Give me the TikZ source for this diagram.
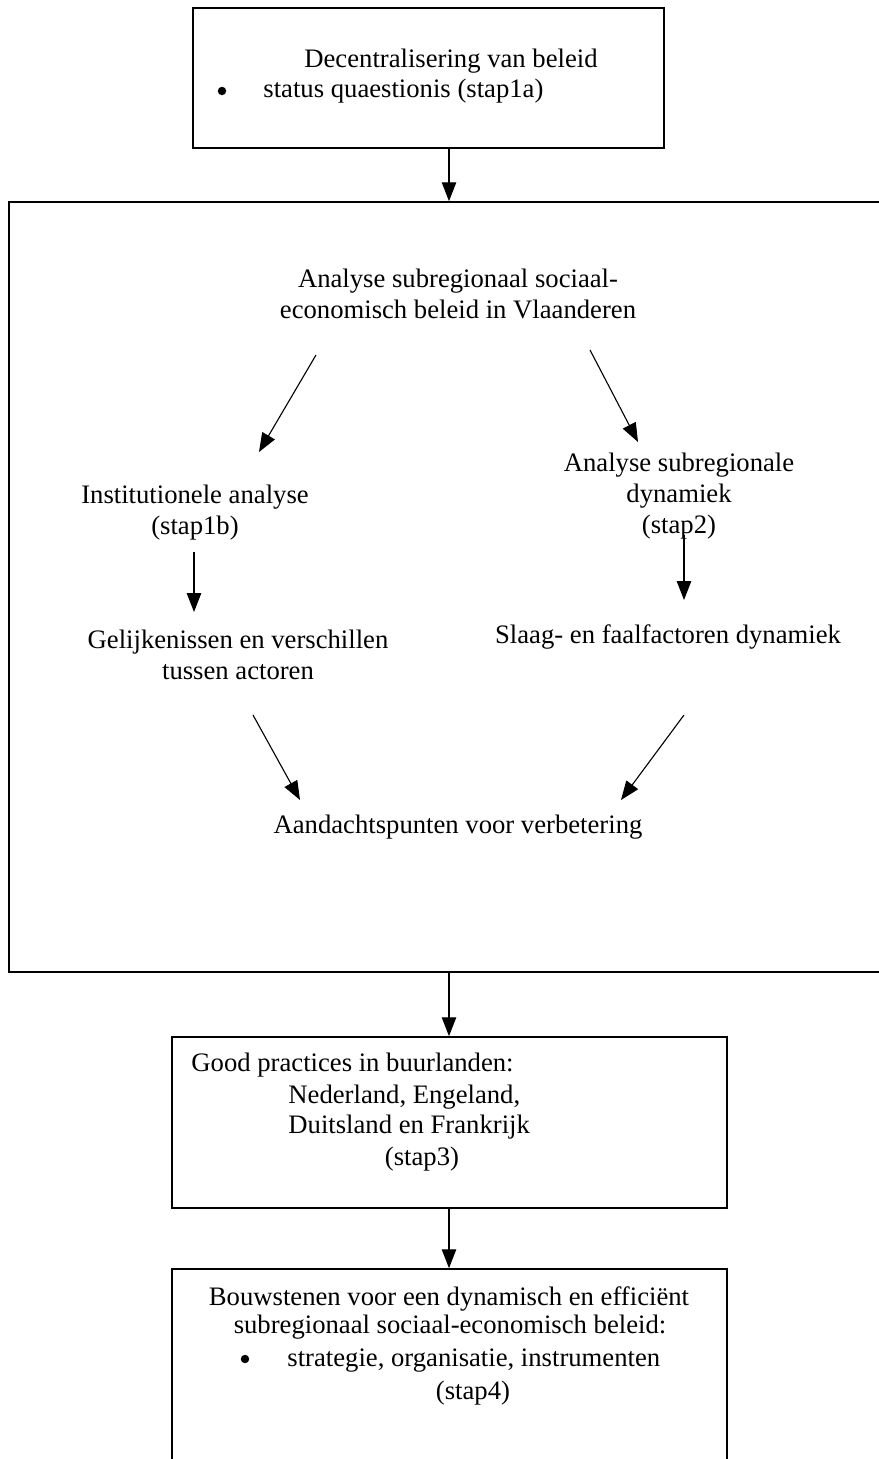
\documentclass[tikz,border=0pt]{standalone}
\usepackage{fontspec}
\setmainfont{Liberation Serif}
\usetikzlibrary{arrows.meta,fit}
\begin{document}
\begin{tikzpicture}[x=0.45pt,y=-0.45pt,
  boxstyle/.style={draw, line width=0.75pt, inner sep=0pt},
  txt/.style={font=\fontsize{12}{14}\selectfont, inner sep=0pt, anchor=base},
  txtw/.style={txt, anchor=base west},
  bulletdot/.style={circle, fill=black, inner sep=0pt, minimum size=3.8pt},
  arr/.style={line width=0.5pt, -{Triangle[width=6.5pt,length=8.5pt]}}]
\useasboundingbox[fill=white] (0,0) rectangle (878,1459);

% boxes
\coordinate (tA) at (193,8);    \coordinate (tB) at (664,148);
\coordinate (bA) at (9,202);    \coordinate (bB) at (890,972);
\coordinate (gA) at (172,1037); \coordinate (gB) at (727,1208);
\coordinate (sA) at (172,1269); \coordinate (sB) at (727,1480);
\node[boxstyle, fit=(tA)(tB)] (top) {};
\node[boxstyle, fit=(bA)(bB)] (big) {};
\node[boxstyle, fit=(gA)(gB)] (good) {};
\node[boxstyle, fit=(sA)(sB)] (bouw) {};

% top box text
\node[txt] (dec) at (451,68) {Decentralisering van beleid};
\node[bulletdot] (bul1) at (222,91) {};
\node[txtw] (sq) at (263,98) {status quaestionis (stap1a)};

% big box text
\node[txt] (an1) at (458,288) {Analyse subregionaal sociaal-};
\node[txt] (an2) at (458,319) {economisch beleid in Vlaanderen};
\node[txt] (ins1) at (195,503) {Institutionele analyse};
\node[txt] (ins2) at (195,534) {(stap1b)};
\node[txt] (dyn1) at (679,471) {Analyse subregionale};
\node[txt] (dyn2) at (679,502) {dynamiek};
\node[txt] (dyn3) at (679,533) {(stap2)};
\node[txt] (gel1) at (238,648) {Gelijkenissen en verschillen};
\node[txt] (gel2) at (238,679) {tussen actoren};
\node[txt] (sla) at (668,643) {Slaag- en faalfactoren dynamiek};
\node[txt] (aan) at (458,833) {Aandachtspunten voor verbetering};

% good practices text
\node[txtw] (gp1) at (191,1071) {Good practices in buurlanden:};
\node[txtw] (gp2) at (288,1103) {Nederland, Engeland,};
\node[txtw] (gp3) at (288,1133) {Duitsland en Frankrijk};
\node[txt] (gp4) at (422,1165) {(stap3)};

% bottom box text
\node[txt] (bs1) at (449,1305) {Bouwstenen voor een dynamisch en efficiënt};
\node[txt] (bs2) at (450,1333) {subregionaal sociaal-economisch beleid:};
\node[bulletdot] (bul2) at (245,1359) {};
\node[txtw] (bs3) at (287,1366) {strategie, organisatie, instrumenten};
\node[txt] (bs4) at (473,1399) {(stap4)};

% main vertical connectors
\coordinate (ax) at (449,0);
\draw[arr] (top.south -| ax) -- (big.north -| ax);
\draw[arr] (big.south -| ax) -- (good.north -| ax);
\draw[arr] (good.south -| ax) -- (bouw.north -| ax);

% inner connectors
\coordinate (l1s) at (316,355); \coordinate (l1e) at (259,452);
\coordinate (r1s) at (590,350); \coordinate (r1e) at (638,442);
\coordinate (l2s) at (194,552); \coordinate (l2e) at (194,612);
\coordinate (r2s) at (684,535); \coordinate (r2e) at (684,600);
\coordinate (l3s) at (253,715); \coordinate (l3e) at (300,800);
\coordinate (r3s) at (684,715); \coordinate (r3e) at (621,800);
\draw[arr] (l1s) -- (l1e);
\draw[arr] (r1s) -- (r1e);
\draw[arr] (l2s) -- (l2e);
\draw[arr] (r2s) -- (r2e);
\draw[arr] (l3s) -- (l3e);
\draw[arr] (r3s) -- (r3e);
\end{tikzpicture}
\end{document}
